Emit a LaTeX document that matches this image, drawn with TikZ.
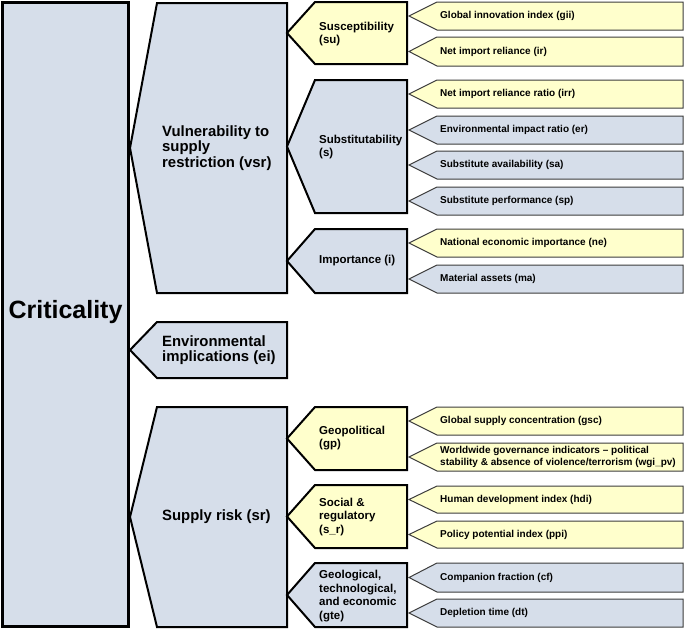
\documentclass[tikz,border=0pt]{standalone}
\usepackage{fontspec}
\setmainfont{Liberation Sans}
\definecolor{bluefill}{RGB}{214,222,234}
\definecolor{yelfill}{RGB}{255,255,204}
\definecolor{leafline}{RGB}{60,60,60}
\newcommand\tagshape[6]{% style, tipx, cornerx, rightx, top, bottom
  \draw[#1] (#3,#5) -- (#4,#5) -- (#4,#6) -- (#3,#6) -- (#2,{(#5+#6)/2}) -- cycle;}
\tikzset{
  bigbox/.style={line width=2pt, draw=black, line join=miter},
  leafbox/.style={line width=1pt, draw=leafline, line join=miter},
  bl/.style={fill=bluefill},
  yl/.style={fill=yelfill},
  txt/.style={anchor=west, inner sep=0pt, align=left, font=\bfseries},
  t1/.style={txt, font=\fontsize{14.9}{15.2}\selectfont\bfseries},
  t2/.style={txt, font=\fontsize{11.5}{13.5}\selectfont\bfseries},
  t3/.style={txt, font=\fontsize{10}{12.5}\selectfont\bfseries},
}
\begin{document}
\begin{tikzpicture}[x=1pt,y=-1pt]
\useasboundingbox (0,0) rectangle (685,629);
% Criticality
\draw[line width=3pt, fill=bluefill] (2.5,2.5) rectangle (128.5,626.5);
\node[inner sep=0pt, font=\fontsize{25}{28}\selectfont\bfseries] (crit) at (65.5,312) {Criticality};
% Level 1
\tagshape{bigbox,bl}{130}{157}{287}{3}{293}
\tagshape{bigbox,bl}{130}{157}{287}{322}{378}
\tagshape{bigbox,bl}{130}{157}{287}{407}{627}
\node[t1] (vsr) at (162,148) {Vulnerability to\\supply\\restriction (vsr)};
\node[t1] (ei) at (162,350) {Environmental\\implications (ei)};
\node[t1] (sr) at (162,517) {Supply risk (sr)};
% Level 2
\tagshape{bigbox,yl}{287}{315}{407}{2}{64}
\tagshape{bigbox,bl}{287}{315}{407}{80}{213}
\tagshape{bigbox,bl}{287}{315}{407}{229}{293}
\tagshape{bigbox,yl}{287}{315}{407}{407}{470}
\tagshape{bigbox,yl}{287}{315}{407}{485}{548}
\tagshape{bigbox,bl}{287}{315}{407}{563}{627}
\node[t2] (su) at (319,34) {Susceptibility\\(su)};
\node[t2] (s) at (319,147) {Substitutability\\(s)};
\node[t2] (i) at (319,261) {Importance (i)};
\node[t2] (gp) at (319,438) {Geopolitical\\(gp)};
\node[t2] (sreg) at (319,517) {Social \&\\regulatory\\(s\_r)};
\node[t2] (gte) at (319,596) {Geological,\\technological,\\and economic\\(gte)};
% Leaves
\tagshape{leafbox,yl}{409}{437}{683}{2}{30}
\tagshape{leafbox,yl}{409}{437}{683}{37}{66}
\tagshape{leafbox,yl}{409}{437}{683}{80}{108}
\tagshape{leafbox,bl}{409}{437}{683}{116}{144}
\tagshape{leafbox,bl}{409}{437}{683}{151}{179}
\tagshape{leafbox,bl}{409}{437}{683}{187}{215}
\tagshape{leafbox,yl}{409}{437}{683}{229}{257}
\tagshape{leafbox,bl}{409}{437}{683}{265}{293}
\tagshape{leafbox,yl}{409}{437}{683}{407}{435}
\tagshape{leafbox,yl}{409}{437}{683}{443}{471}
\tagshape{leafbox,yl}{409}{437}{683}{486}{513}
\tagshape{leafbox,yl}{409}{437}{683}{521}{548}
\tagshape{leafbox,bl}{409}{437}{683}{563}{592}
\tagshape{leafbox,bl}{409}{437}{683}{599}{627}
\node[t3] (gii) at (440,16) {Global innovation index (gii)};
\node[t3] (ir) at (440,51.5) {Net import reliance (ir)};
\node[t3] (irr) at (440,94) {Net import reliance ratio (irr)};
\node[t3] (er) at (440,130) {Environmental impact ratio (er)};
\node[t3] (sa) at (440,165) {Substitute availability (sa)};
\node[t3] (sp) at (440,201) {Substitute performance (sp)};
\node[t3] (ne) at (440,243) {National economic importance (ne)};
\node[t3] (ma) at (440,279) {Material assets (ma)};
\node[t3] (gsc) at (440,421) {Global supply concentration (gsc)};
\node[t3] (wgi) at (440,457) {Worldwide governance indicators -- political\\stability \& absence of violence/terrorism (wgi\_pv)};
\node[t3] (hdi) at (440,499.5) {Human development index (hdi)};
\node[t3] (ppi) at (440,534.5) {Policy potential index (ppi)};
\node[t3] (cf) at (440,577.5) {Companion fraction (cf)};
\node[t3] (dt) at (440,613) {Depletion time (dt)};
\end{tikzpicture}
\end{document}
